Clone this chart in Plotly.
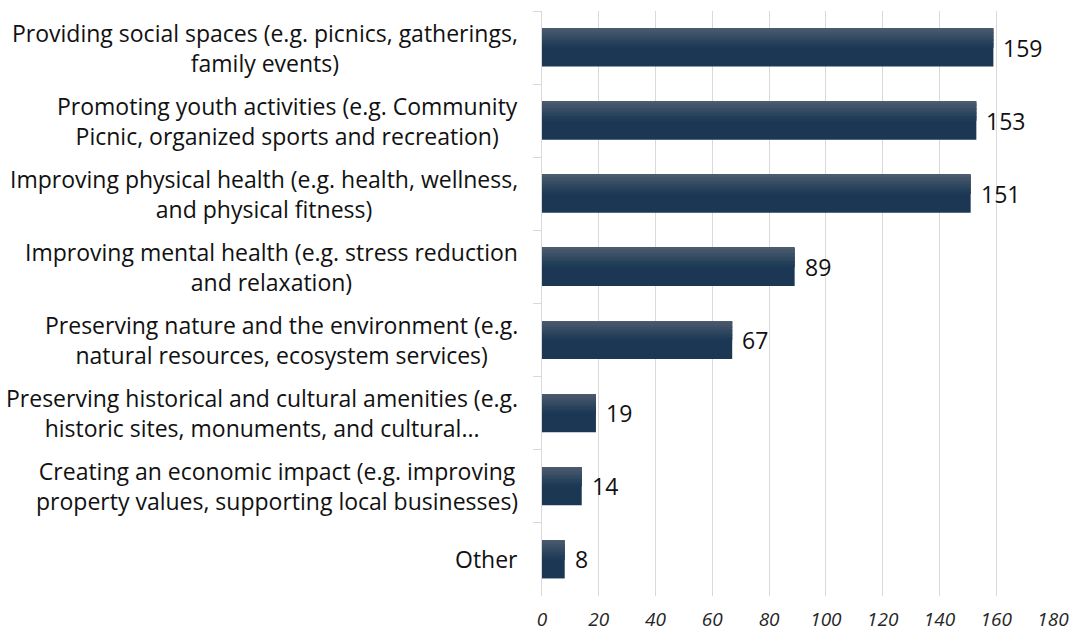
import plotly.graph_objects as go

categories = [
    "Providing social spaces (e.g. picnics, gatherings,<br>family events)",
    "Promoting youth activities (e.g. Community<br>Picnic, organized sports and recreation)",
    "Improving physical health (e.g. health, wellness,<br>and physical fitness)",
    "Improving mental health (e.g. stress reduction<br>and relaxation)",
    "Preserving nature and the environment (e.g.<br>natural resources, ecosystem services)",
    "Preserving historical and cultural amenities (e.g.<br>historic sites, monuments, and cultural...",
    "Creating an economic impact (e.g. improving<br>property values, supporting local businesses)",
    "Other",
]
values = [159, 153, 151, 89, 67, 19, 14, 8]
x_ticks = [0, 20, 40, 60, 80, 100, 120, 140, 160, 180]

FONT = "Open Sans"
BAR_W = 0.52
DARK = (29, 58, 87)
LIGHT = (76, 91, 109)

fig = go.Figure()

# base solid bar
fig.add_trace(go.Bar(
    y=categories, x=values, orientation="h",
    width=BAR_W, offset=-BAR_W / 2,
    marker=dict(color="rgb(28,55,84)", line=dict(width=0)),
    hoverinfo="skip", showlegend=False,
))

# gradient stripes across the top portion of each bar
n = 14
grad_frac = 0.5
h = BAR_W * grad_frac / n
for k in range(n):
    t = k / (n - 1)
    c = tuple(round(LIGHT[i] + (DARK[i] - LIGHT[i]) * t) for i in range(3))
    fig.add_trace(go.Bar(
        y=categories, x=values, orientation="h",
        width=h * 1.15, offset=-BAR_W / 2 + k * h,
        marker=dict(color=f"rgb{c}", line=dict(width=0)),
        hoverinfo="skip", showlegend=False,
    ))

annotations = []
for cat, v in zip(categories, values):
    annotations.append(dict(
        x=v, y=cat, xref="x", yref="y", text=str(v), showarrow=False,
        xanchor="left", yanchor="middle", xshift=8,
        font=dict(family=FONT, size=23, color="#111111"),
    ))
    annotations.append(dict(
        x=0, y=cat, xref="paper", yref="y", text=cat, showarrow=False,
        xanchor="right", yanchor="middle", align="center", xshift=-22,
        font=dict(family=FONT, size=23, color="#111111"),
    ))

fig.update_layout(
    width=1072, height=634,
    margin=dict(l=542, r=19, t=11, b=38, autoexpand=False),
    paper_bgcolor="white", plot_bgcolor="white",
    barmode="overlay",
    showlegend=False,
    annotations=annotations,
    xaxis=dict(
        range=[0, 180], tickvals=x_ticks, ticktext=[str(t) for t in x_ticks],
        showgrid=True, gridcolor="#d9d9d9", gridwidth=1,
        zeroline=False, showline=False, ticks="",
        tickfont=dict(family=FONT, size=19, color="#262626", style="italic"),
        ticklabelstandoff=10, automargin=False,
        fixedrange=True,
    ),
    yaxis=dict(
        type="category", autorange="reversed", automargin=False,
        showticklabels=False, showgrid=False, zeroline=False,
        showline=True, linecolor="#d9d9d9", linewidth=1,
        ticks="outside", tickson="boundaries", ticklen=8, tickcolor="#d9d9d9",
        fixedrange=True,
    ),
)

fig.write_html("out.html", config={"displayModeBar": False},
               post_script="document.body.style.margin='0';")
